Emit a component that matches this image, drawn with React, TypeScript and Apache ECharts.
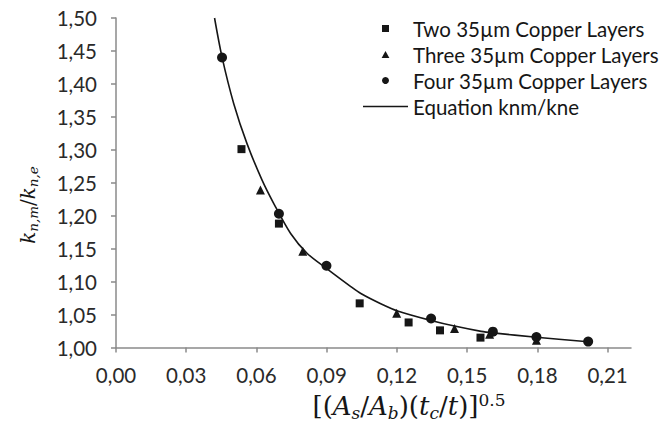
import React, { useEffect, useRef } from "react";
import * as echarts from "echarts";

const xTicks = [0, 0.03, 0.06, 0.09, 0.12, 0.15, 0.18, 0.21];

const seriesNames = [
  "Two 35µm Copper Layers",
  "Three 35µm Copper Layers",
  "Four 35µm Copper Layers",
  "Equation knm/kne",
];

const twoX = [0.0536, 0.0696, 0.1041, 0.125, 0.1384, 0.1557];
const twoY = [1.301, 1.188, 1.067, 1.038, 1.026, 1.015];

const threeX = [0.0617, 0.0798, 0.1199, 0.1446, 0.1596, 0.1796];
const threeY = [1.239, 1.146, 1.052, 1.029, 1.02, 1.011];

const fourX = [0.0453, 0.0696, 0.0899, 0.1346, 0.161, 0.1796, 0.2017];
const fourY = [1.44, 1.203, 1.124, 1.044, 1.024, 1.016, 1.009];

const curveX = [0.0421, 0.0453, 0.0503, 0.056, 0.0624, 0.0674, 0.0746, 0.0817, 0.0903, 0.1003, 0.1046, 0.1131, 0.1203, 0.1346, 0.1446, 0.156, 0.161, 0.1796, 0.2017];
const curveY = [1.5, 1.4406, 1.37, 1.309, 1.254, 1.2185, 1.173, 1.1427, 1.119, 1.0925, 1.082, 1.0665, 1.0555, 1.041, 1.0325, 1.0245, 1.0222, 1.0155, 1.0088];

const zip = (xs: number[], ys: number[]) => xs.map((x, i) => [x, ys[i]]);
const fmt = (v: number) => v.toFixed(2).replace(".", ",");

export default function App() {
  const ref = useRef<HTMLDivElement>(null);
  useEffect(() => {
    document.body.style.margin = "0";
    const chart = echarts.init(ref.current!, null, { renderer: "svg" });
    const labelFont = "Lato";
    const mathFont = "DejaVu Serif";
    const ink = "#161616";
    chart.setOption({
      animation: false,
      backgroundColor: "#ffffff",
      grid: { left: 116, right: 31, top: 18, bottom: 78.5, containLabel: false },
      xAxis: {
        type: "value",
        min: 0,
        max: 0.22,
        interval: 0.03,
        splitLine: { show: false },
        axisLine: { show: true, lineStyle: { color: "#8a8a8a", width: 1.5 } },
        axisTick: { show: true, length: 5, customValues: xTicks, lineStyle: { color: "#8a8a8a", width: 1.5 } },
        axisLabel: {
          customValues: xTicks,
          formatter: (v: number) => fmt(v),
          margin: 17,
          color: "#2a2a2a",
          fontFamily: labelFont,
          fontSize: 20.5,
        },
      },
      yAxis: {
        type: "value",
        min: 1,
        max: 1.5,
        interval: 0.05,
        splitLine: { show: false },
        axisLine: { show: true, lineStyle: { color: "#8a8a8a", width: 1.5 } },
        axisTick: { show: true, length: 5, lineStyle: { color: "#8a8a8a", width: 1.5 } },
        axisLabel: {
          formatter: (v: number) => fmt(v),
          margin: 19,
          color: "#2a2a2a",
          fontFamily: labelFont,
          fontSize: 20.5,
        },
      },
      legend: {
        orient: "vertical",
        left: 363,
        top: 18,
        padding: 0,
        itemWidth: 45,
        itemHeight: 7,
        itemGap: 5,
        textStyle: { fontFamily: labelFont, fontSize: 20.5, color: ink },
        data: [
          { name: seriesNames[0], icon: "path://M0,0L10,0L10,10L0,10Z" },
          { name: seriesNames[1], icon: "path://M5,0L10,9L0,9Z" },
          { name: seriesNames[2], icon: "circle" },
          { name: seriesNames[3], icon: "path://M0,0L45,0L45,1.5L0,1.5Z" },
        ],
      },
      graphic: [
        {
          type: "text",
          x: 409,
          y: 406,
          style: {
            text: "[({i|A}{s|s}/{i|A}{s|b})({i|t}{s|c}/{i|t})]{p|0.5}",
            align: "center",
            verticalAlign: "middle",
            fontFamily: mathFont,
            fontSize: 26,
            lineHeight: 30,
            fill: ink,
            rich: {
              i: { fontFamily: mathFont, fontStyle: "italic", fontSize: 26, lineHeight: 30, fill: ink },
              s: { fontFamily: mathFont, fontStyle: "italic", fontSize: 17, lineHeight: 16, verticalAlign: "bottom", fill: ink },
              p: { fontFamily: mathFont, fontSize: 17, lineHeight: 16, verticalAlign: "top", fill: ink },
            },
          },
        },
        {
          type: "text",
          x: 28,
          y: 205,
          rotation: Math.PI / 2,
          style: {
            text: "{i|k}{s|n,m}/{i|k}{s|n,e}",
            align: "center",
            verticalAlign: "middle",
            fontFamily: mathFont,
            fontSize: 20,
            lineHeight: 24,
            fill: ink,
            rich: {
              i: { fontFamily: mathFont, fontStyle: "italic", fontSize: 20, lineHeight: 24, fill: ink },
              s: { fontFamily: mathFont, fontStyle: "italic", fontSize: 13.5, lineHeight: 13, verticalAlign: "bottom", fill: ink },
            },
          },
        },
      ],
      series: [
        {
          name: seriesNames[0],
          type: "scatter",
          symbol: "rect",
          symbolSize: 8,
          symbolKeepAspect: true,
          itemStyle: { color: ink, opacity: 1 },
          data: zip(twoX, twoY),
          z: 3,
        },
        {
          name: seriesNames[1],
          type: "scatter",
          symbol: "triangle",
          symbolSize: 9,
          symbolKeepAspect: true,
          itemStyle: { color: ink, opacity: 1 },
          data: zip(threeX, threeY),
          z: 3,
        },
        {
          name: seriesNames[2],
          type: "scatter",
          symbol: "circle",
          symbolSize: 10,
          symbolKeepAspect: true,
          itemStyle: { color: ink, opacity: 1 },
          data: zip(fourX, fourY),
          z: 3,
        },
        {
          name: seriesNames[3],
          type: "line",
          symbol: "none",
          showSymbol: false,
          symbolKeepAspect: true,
          smooth: 0.3,
          lineStyle: { color: ink, width: 1.6 },
          itemStyle: { color: ink },
          data: zip(curveX, curveY),
          z: 4,
        },
      ],
    });
    return () => chart.dispose();
  }, []);
  return <div ref={ref} style={{ width: 662, height: 426 }} />;
}
